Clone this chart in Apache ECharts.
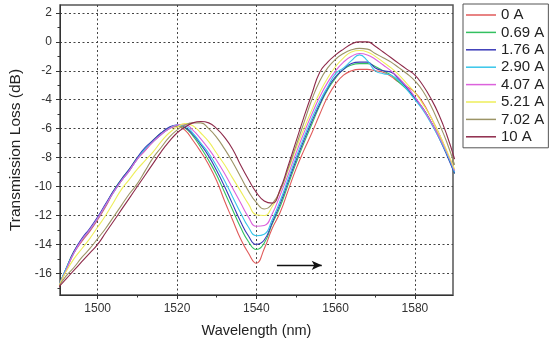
<!DOCTYPE html>
<html><head><meta charset="utf-8">
<script src="https://cdn.jsdelivr.net/npm/echarts@6/dist/echarts.min.js"></script>
<style>html,body{margin:0;padding:0;background:#fff}#c{width:550px;height:344px}</style>
</head><body><div id="c"></div>
<script>
const wavelengths = [1490,1492,1494,1496,1498,1500,1502,1504,1506,1508,1510,1512,1514,1516,1518,1520,1522,1524,1526,1528,1530,1532,1534,1536,1538,1540,1542,1544,1546,1548,1550,1552,1554,1556,1558,1560,1562,1564,1566,1568,1570,1572,1574,1576,1578,1580,1582,1584,1586,1588,1590];

const names = ['0 A','0.69 A','1.76 A','2.90 A','4.07 A','5.21 A','7.02 A','10 A'];
const colors = ['#e05a5a','#33c060','#3a3ab8','#38c6ea','#dc62dc','#eeee5a','#9c9466','#8e2a4a'];

const loss_0A = [-17.0,-15.8,-14.6,-13.8,-13.1,-12.3,-11.4,-10.4,-9.6,-8.9,-8.1,-7.5,-6.9,-6.4,-6.0,-5.85,
  -6.1,-6.8,-7.6,-8.5,-9.6,-11.0,-12.3,-13.6,-14.6,-15.3,
  -14.3,-12.9,-11.8,-10.3,-8.8,-7.5,-6.3,-5.0,-3.8,-2.9,
  -2.3,-2.0,-1.9,-1.9,-2.0,-2.1,-2.4,-2.8,-3.1,-3.5,
  -4.2,-5.2,-6.3,-7.6,-9.0];
const loss_069A = [-17.0,-15.7,-14.5,-13.7,-13.0,-12.2,-11.3,-10.3,-9.5,-8.8,-8.0,-7.4,-6.8,-6.3,-5.95,-5.8,
  -5.95,-6.5,-7.3,-8.2,-9.2,-10.4,-11.6,-12.8,-13.8,-14.35,
  -13.9,-12.6,-11.4,-9.9,-8.4,-7.0,-5.7,-4.4,-3.3,-2.5,
  -1.9,-1.6,-1.5,-1.5,-1.7,-2.0,-2.3,-2.8,-3.3,-3.9,
  -4.6,-5.5,-6.5,-7.7,-9.1];
const loss_176A = [-17.0,-15.7,-14.5,-13.6,-12.9,-12.1,-11.2,-10.3,-9.5,-8.8,-8.0,-7.3,-6.8,-6.3,-5.9,-5.75,
  -5.9,-6.4,-7.1,-7.9,-8.9,-10.0,-11.2,-12.4,-13.4,-14.0,
  -13.7,-12.5,-11.2,-9.7,-8.2,-6.8,-5.5,-4.3,-3.2,-2.4,
  -1.9,-1.5,-1.4,-1.4,-1.8,-2.0,-2.1,-2.6,-3.2,-3.9,
  -4.6,-5.5,-6.6,-7.8,-9.1];
const loss_290A = [-17.0,-15.7,-14.6,-13.7,-13.0,-12.2,-11.3,-10.4,-9.6,-8.9,-8.1,-7.4,-6.9,-6.4,-6.0,-5.75,
  -5.8,-6.3,-7.0,-7.7,-8.6,-9.6,-10.7,-11.8,-12.8,-13.4,
  -13.3,-12.3,-11.0,-9.5,-8.0,-6.6,-5.3,-4.1,-3.1,-2.2,
  -1.8,-1.3,-0.9,-1.3,-2.0,-2.2,-2.3,-2.7,-3.3,-4.0,
  -4.7,-5.6,-6.6,-7.7,-9.0];
const loss_407A = [-17.0,-15.8,-14.6,-13.7,-13.0,-12.2,-11.3,-10.4,-9.6,-8.9,-8.1,-7.5,-6.9,-6.4,-6.0,-5.75,
  -5.7,-6.1,-6.7,-7.4,-8.2,-9.1,-10.1,-11.1,-12.1,-12.75,
  -12.7,-11.9,-10.6,-9.2,-7.7,-6.3,-5.0,-3.8,-2.8,-2.0,
  -1.4,-1.0,-0.8,-0.9,-1.2,-1.6,-2.0,-2.5,-3.1,-3.8,
  -4.6,-5.5,-6.5,-7.6,-8.9];
const loss_521A = [-17.0,-15.9,-15.0,-14.3,-13.6,-12.8,-12.0,-11.1,-10.2,-9.5,-8.8,-8.2,-7.6,-6.9,-6.3,-5.9,
  -5.65,-5.8,-6.3,-6.9,-7.7,-8.5,-9.4,-10.3,-11.2,-11.95,
  -12.0,-11.4,-10.3,-8.9,-7.4,-6.0,-4.7,-3.5,-2.5,-1.7,
  -1.1,-0.7,-0.6,-0.7,-1.0,-1.4,-1.8,-2.3,-2.9,-3.5,
  -4.3,-5.2,-6.3,-7.5,-8.8];
const loss_702A = [-17.0,-16.2,-15.6,-14.9,-14.3,-13.6,-12.9,-12.1,-11.3,-10.5,-9.8,-8.9,-8.0,-7.3,-6.6,-6.1,
  -5.75,-5.6,-5.6,-6.0,-6.6,-7.4,-8.3,-9.3,-10.3,-11.1,
  -11.55,-11.2,-10.3,-8.8,-7.2,-5.6,-4.0,-2.7,-1.8,-1.2,
  -0.8,-0.55,-0.45,-0.5,-0.8,-1.1,-1.4,-1.8,-2.2,-2.7,
  -3.4,-4.4,-5.6,-6.9,-8.5];
const loss_10A = [-17.0,-16.4,-15.8,-15.2,-14.6,-14.0,-13.2,-12.4,-11.6,-10.8,-10.0,-9.2,-8.4,-7.6,-6.9,-6.3,
  -5.9,-5.6,-5.5,-5.6,-6.0,-6.6,-7.4,-8.5,-9.5,-10.4,
  -11.0,-11.15,-10.2,-8.6,-6.9,-5.2,-3.6,-2.1,-1.4,-0.9,
  -0.5,-0.15,0.0,0.0,-0.3,-0.7,-1.1,-1.5,-1.9,-2.3,
  -3.0,-3.9,-5.0,-6.4,-8.1];

const allLoss = [loss_0A, loss_069A, loss_176A, loss_290A, loss_407A, loss_521A, loss_702A, loss_10A];

const xTickLabels = [1500,1520,1540,1560,1580];
const xMinorTicks = [1510,1530,1550,1570];
const yTickLabels = [-16,-14,-12,-10,-8,-6,-4,-2,0,2];
const yMinorTicks = [-17,-15,-13,-11,-9,-7,-5,-3,-1,1];
const arrowStart = [1545.2,-15.45];
const arrowEnd = [1556.5,-15.45];

const X_MIN = 1490.5, X_MAX = 1589.6, Y_MIN = -17.5, Y_MAX = 2.55;
const FONT = 'Liberation Sans, Arial, sans-serif';

const chart = echarts.init(document.getElementById('c'), null, {renderer:'canvas'});

const series = names.map((n, k) => ({
  name: n, type: 'line', xAxisIndex: 0, yAxisIndex: 0,
  data: wavelengths.map((w, i) => [w, allLoss[k][i]]),
  showSymbol: false, symbol: 'none', smooth: 0.5,
  lineStyle: {width: 1.1, color: colors[k]},
  itemStyle: {color: colors[k]},
  emphasis: {disabled: true},
  z: 2
}));
series[series.length - 1].markLine = {
  silent: true, symbol: ['none','arrow'], symbolSize: [7,10],
  lineStyle: {color:'#111', width:1.3, type:'solid'},
  label: {show:false}, emphasis:{disabled:true},
  data: [[{coord: arrowStart}, {coord: arrowEnd}]],
  animation: false
};

const dotted = {type:[2,2.5], color:'#444', width:1};
const plain = v => String(v);

chart.setOption({
  animation: false,
  backgroundColor: '#fff',
  grid: {left:60, top:5, width:393, height:290, show:true, borderColor:'#555', borderWidth:1.5, containLabel:false, outerBoundsMode:'none'},
  legend: {
    orient:'vertical', left:463, top:4, icon:'rect', itemWidth:30, itemHeight:1.5, itemGap:1.4,
    padding:[3,4,3,3], borderColor:'#555', borderWidth:1, backgroundColor:'#fff', borderRadius:0,
    textStyle:{fontSize:15, color:'#222', fontFamily:FONT, lineHeight:16},
    itemTextGap:5, data:names, selectedMode:false
  },
  xAxis: [{
    type:'value', min:X_MIN, max:X_MAX, splitNumber:5, position:'bottom',
    axisLine:{show:true, onZero:false, lineStyle:{color:'#333', width:1}},
    axisTick:{show:true, customValues:xTickLabels, length:4, inside:false, lineStyle:{color:'#333'}},
    axisLabel:{customValues:xTickLabels, formatter:plain, fontSize:12, color:'#333', margin:8, fontFamily:FONT},
    splitLine:{show:true, lineStyle:dotted},
    minorTick:{show:false},
    name:'Wavelength (nm)', nameLocation:'middle', nameGap:28,
    nameTextStyle:{fontSize:14.5, color:'#222', fontFamily:FONT}
  },{
    type:'value', min:X_MIN, max:X_MAX, splitNumber:5, position:'bottom',
    axisLine:{show:false, onZero:false}, axisLabel:{show:false}, splitLine:{show:false},
    axisTick:{show:true, customValues:xMinorTicks, length:2.5, lineStyle:{color:'#333'}}
  }],
  yAxis: [{
    type:'value', min:Y_MIN, max:Y_MAX, splitNumber:10, position:'left',
    axisLine:{show:true, onZero:false, lineStyle:{color:'#333', width:1}},
    axisTick:{show:true, customValues:yTickLabels, length:4, lineStyle:{color:'#333'}},
    axisLabel:{customValues:yTickLabels, formatter:plain, fontSize:12, color:'#333', margin:8, fontFamily:FONT},
    splitLine:{show:true, lineStyle:dotted},
    name:'Transmission Loss (dB)', nameLocation:'middle', nameGap:36,
    nameTextStyle:{fontSize:15.5, color:'#222', fontFamily:FONT}
  },{
    type:'value', min:Y_MIN, max:Y_MAX, splitNumber:10, position:'left',
    axisLine:{show:false, onZero:false}, axisLabel:{show:false}, splitLine:{show:false},
    axisTick:{show:true, customValues:yMinorTicks, length:2.5, lineStyle:{color:'#333'}}
  }],
  series: series
});
</script></body></html>
